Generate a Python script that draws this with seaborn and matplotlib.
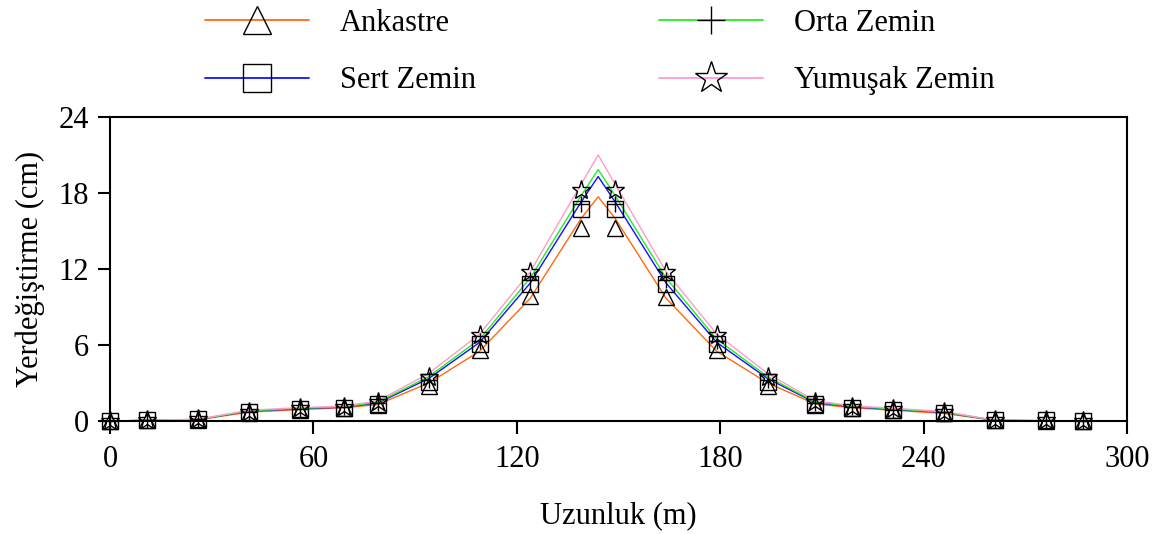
import numpy as np
import pandas as pd
import matplotlib
matplotlib.use("Agg")
import matplotlib.pyplot as plt
import seaborn as sns
from matplotlib.lines import Line2D

# marker positions along the bridge (m)
x_pts = [0, 11, 26, 41, 56, 69, 79, 94, 109, 124, 139,
         149, 164, 179, 194, 208, 219, 231, 246, 261, 276, 287]
# line nodes include the mid-span peak
x_line = [0, 11, 26, 41, 56, 69, 79, 94, 109, 124, 139, 144,
          149, 164, 179, 194, 208, 219, 231, 246, 261, 276, 287]

# line values (cm)
ankastre_line = [0, 0.05, 0.1, 0.7, 0.9, 1.05, 1.3, 3.0, 5.5, 9.7, 16.0, 17.7,
                 16.0, 9.7, 5.5, 3.0, 1.35, 1.05, 0.85, 0.6, 0.05, 0.02, 0]
sert_line = [0, 0.05, 0.12, 0.78, 0.97, 1.1, 1.42, 3.35, 6.2, 10.9, 17.3, 19.3,
             17.3, 10.9, 6.2, 3.35, 1.45, 1.12, 0.92, 0.68, 0.05, 0.02, 0]
orta_line = [0, 0.05, 0.12, 0.8, 1.0, 1.12, 1.48, 3.5, 6.45, 11.3, 17.8, 19.85,
             17.8, 11.3, 6.45, 3.5, 1.5, 1.15, 0.95, 0.7, 0.05, 0.02, 0]
yumusak_line = [0, 0.06, 0.14, 0.85, 1.05, 1.18, 1.58, 3.75, 6.85, 11.8, 18.7, 21.0,
                18.7, 11.8, 6.85, 3.75, 1.6, 1.2, 1.0, 0.75, 0.06, 0.03, 0]

# marker values (cm)
ankastre_pts = [0, 0.05, 0.1, 0.65, 0.9, 1.0, 1.3, 2.8, 5.6, 9.9, 15.2,
                15.2, 9.8, 5.6, 2.8, 1.3, 1.0, 0.85, 0.62, 0.05, 0.03, 0]
sert_pts = [0, 0.05, 0.12, 0.7, 0.95, 1.05, 1.35, 3.05, 6.1, 10.8, 16.7,
            16.7, 10.8, 6.1, 3.05, 1.35, 1.05, 0.88, 0.66, 0.06, 0.04, 0]
orta_pts = [0, 0.05, 0.12, 0.72, 0.97, 1.08, 1.4, 3.2, 6.3, 11.1, 17.1,
            17.1, 11.1, 6.3, 3.2, 1.4, 1.08, 0.9, 0.68, 0.06, 0.04, 0]
yumusak_pts = [0, 0.06, 0.14, 0.75, 1.0, 1.12, 1.5, 3.45, 6.8, 11.8, 18.2,
               18.2, 11.8, 6.8, 3.45, 1.5, 1.12, 0.92, 0.7, 0.07, 0.05, 0]

labels = ['Ankastre', 'Sert Zemin', 'Orta Zemin', 'Yumuşak Zemin']
colors = ['#FF6A10', '#1010FF', '#22EE22', '#FF9ACD']
markers = ['^', 's', '+', '*']
lines = [ankastre_line, sert_line, orta_line, yumusak_line]
points = [ankastre_pts, sert_pts, orta_pts, yumusak_pts]

sns.set_style("ticks")
plt.rcParams['font.family'] = ['Liberation Serif', 'DejaVu Serif']
plt.rcParams['text.color'] = 'black'
plt.rcParams['xtick.color'] = 'black'
plt.rcParams['ytick.color'] = 'black'
plt.rcParams['axes.labelcolor'] = 'black'

fig = plt.figure(figsize=(11.64, 5.34), dpi=100)
ax = fig.add_axes([110 / 1164, 113 / 534, 1017 / 1164, 304 / 534])

for lab, col, yl in zip(labels, colors, lines):
    df = pd.DataFrame({'x': x_line, 'y': yl})
    sns.lineplot(data=df, x='x', y='y', color=col, linewidth=1.0, ax=ax,
                 estimator=None, sort=False)

for mk, yp in zip(markers, points):
    ax.plot(x_pts, yp, linestyle='none', marker=mk, ms=11 if mk != '*' else 14,
            mfc='none', mec='black', mew=1.0, clip_on=False, zorder=5)

ax.set_xlim(0, 300)
ax.set_ylim(0, 24)
ax.set_xticks([0, 60, 120, 180, 240, 300])
ax.set_yticks([0, 6, 12, 18, 24])
ax.tick_params(axis='both', labelsize=22, direction='out', length=9, width=1.5,
               top=False, right=False)
ax.tick_params(axis='x', pad=8)
ax.tick_params(axis='y', pad=6)
for sp in ax.spines.values():
    sp.set_linewidth(1.5)
    sp.set_color('black')
    sp.set_visible(True)
ax.set_xlabel('Uzunluk (m)', fontsize=22, labelpad=20)
ax.set_ylabel('Yerdeğiştirme (cm)', fontsize=22, labelpad=10)

handles = [Line2D([], [], color=c, lw=1.3, marker=m, ms=20 if m != '*' else 24,
                  mfc='none', mec='black', mew=1.0)
           for c, m in zip(colors, markers)]
fig.legend(handles, labels, loc='upper left', bbox_to_anchor=(190 / 1164, 1.012),
           ncol=2, frameon=False, fontsize=22, handlelength=3.4,
           handletextpad=1.0, columnspacing=6.0, labelspacing=0.93, borderpad=0)

fig.savefig('out.png', dpi=100)
